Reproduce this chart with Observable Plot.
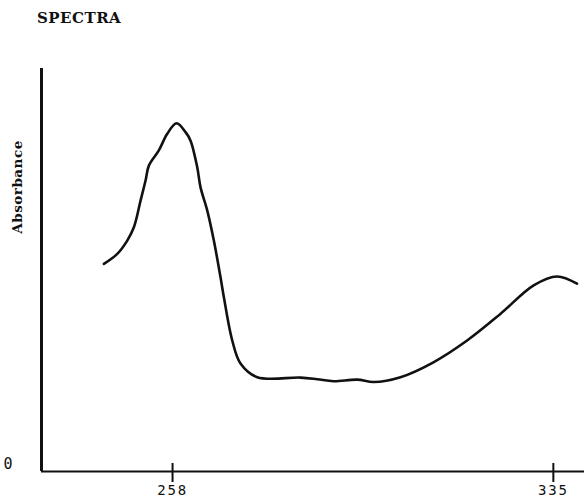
<!DOCTYPE html>
<html><head><meta charset="utf-8">
<script src="https://cdn.jsdelivr.net/npm/d3@7"></script>
<script src="https://cdn.jsdelivr.net/npm/@observablehq/plot@0.6"></script>
<style>
body{margin:0;background:#fff;}
#wrap{position:relative;width:584px;height:500px;}
#title{position:absolute;z-index:2;left:37px;top:11px;font-family:"DejaVu Serif",serif;font-size:15px;line-height:15px;letter-spacing:0.5px;color:#111;font-weight:bold;}
#wrap svg{position:absolute;z-index:1;left:0;top:0;}
.xax text{letter-spacing:1.8px;}
.ylab text{letter-spacing:0.5px;}
</style></head><body><div id="wrap"><div id="title">SPECTRA</div></div>
<script>
const wavelength = [244.12, 246.82, 248.84, 250.18, 251.53, 252.54, 253.21, 255.23, 256.93, 258.81, 260.63, 261.64, 262.99, 263.66, 265.01, 266.35, 267.70, 268.37, 270.07, 271.74, 275.12, 283.87, 287.24, 290.54, 295.33, 298.68, 304.08, 310.75, 317.56, 324.29, 331.02, 335.75, 339.79];
const absorbance = [0.515, 0.540, 0.573, 0.606, 0.672, 0.722, 0.759, 0.797, 0.838, 0.864, 0.842, 0.821, 0.755, 0.705, 0.648, 0.573, 0.482, 0.433, 0.325, 0.268, 0.234, 0.233, 0.229, 0.224, 0.228, 0.222, 0.234, 0.271, 0.325, 0.391, 0.462, 0.484, 0.466];
const xTicks = [258, 335];
const yTicks = [0];
const xDomain = [231.5, 341.3];
const yDomain = [0, 1];
const yLabel = "Absorbance";

const data = wavelength.map((w, i) => ({w, a: absorbance[i]}));

const chart = Plot.plot({
  width: 584, height: 500,
  marginLeft: 41, marginRight: 0, marginTop: 68, marginBottom: 29,
  style: {fontFamily: "'DejaVu Sans Mono', monospace", background: "transparent", color: "#111"},
  x: {domain: xDomain},
  y: {domain: yDomain},
  marks: [
    Plot.ruleX([xDomain[0]], {y1: yDomain[0], y2: yDomain[1], strokeWidth: 3, stroke: "#111"}),
    Plot.ruleY([yDomain[0]], {strokeWidth: 2, stroke: "#111"}),
    Plot.ruleX(xTicks, {y1: 0, y2: 0, insetTop: -8, insetBottom: -11, strokeWidth: 2, stroke: "#111"}),
    Plot.axisX({ticks: xTicks, tickSize: 0, tickPadding: 14, tickFormat: d => String(d), label: null, fontSize: 14, fontFamily: "'DejaVu Sans Mono', monospace", className: "xax"}),
    Plot.axisY({ticks: yTicks, tickSize: 0, tickPadding: 29, tickFormat: d => String(d), label: null, dy: -7, fontSize: 15, fontFamily: "'DejaVu Sans Mono', monospace"}),
    Plot.text([yLabel], {frameAnchor: "left", textAnchor: "middle", rotate: -90, dx: -24, dy: -83, fontSize: 13.5, fontWeight: "bold", fontFamily: "'DejaVu Serif', serif", fill: "#111", className: "ylab"}),
    Plot.line(data, {x: "w", y: "a", curve: "catmull-rom", strokeWidth: 2.6, stroke: "#111"})
  ]
});
document.getElementById("wrap").appendChild(chart);
</script>
</body></html>
